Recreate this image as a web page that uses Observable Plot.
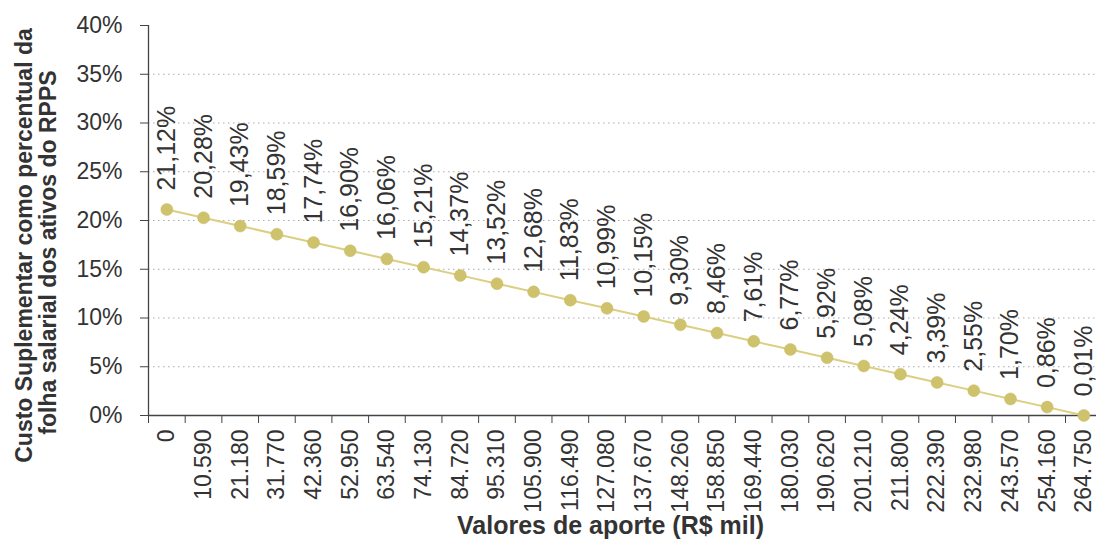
<!DOCTYPE html>
<html>
<head>
<meta charset="utf-8">
<script src="https://cdn.jsdelivr.net/npm/d3@7"></script>
<script src="https://cdn.jsdelivr.net/npm/@observablehq/plot@0.6"></script>
<style>
  html, body { margin: 0; padding: 0; background: #fff; }
  svg { display: block; }
</style>
</head>
<body>
<div id="chart"></div>
<script>
const categories = ["0","10.590","21.180","31.770","42.360","52.950","63.540","74.130","84.720","95.310","105.900","116.490","127.080","137.670","148.260","158.850","169.440","180.030","190.620","201.210","211.800","222.390","232.980","243.570","254.160","264.750"];
const values = [21.12,20.28,19.43,18.59,17.74,16.90,16.06,15.21,14.37,13.52,12.68,11.83,10.99,10.15,9.30,8.46,7.61,6.77,5.92,5.08,4.24,3.39,2.55,1.70,0.86,0.01];
const yTicks = [0,5,10,15,20,25,30,35,40];
const yTitle1 = "Custo Suplementar como percentual da";
const yTitle2 = "folha salarial dos ativos do RPPS";
const xTitle = "Valores de aporte (R$ mil)";

const data = categories.map((c, i) => ({idx: i, center: i + 0.5, cat: c, v: values[i]}));
const fmtPct = v => v.toFixed(2).replace(".", ",") + "%";

const W = 1096, H = 541;
const mL = 148, mR = 0, mT = 25, mB = 126;
// band width in px; the range extends slightly beyond the right edge
const bw = 36.68;
const xMax = (W - mL - mR) / bw;
const frameMidY = mT + (H - mT - mB) / 2;
const frameMidX = mL + (W - mL - mR) / 2;

const font = "Liberation Sans, Arial, Helvetica, sans-serif";
const ink = "#333";

const chart = Plot.plot({
  width: W, height: H,
  marginLeft: mL, marginRight: mR, marginTop: mT, marginBottom: mB,
  style: {fontFamily: font, fontSize: "23px", color: ink, background: "#fff", overflow: "visible"},
  x: {type: "linear", domain: [0, xMax]},
  y: {domain: [0, 40]},
  marks: [
    Plot.gridY(yTicks.filter(t => t > 0 && t < 40), {stroke: "#aaa", strokeOpacity: 1, strokeDasharray: "1.5,3.5", strokeWidth: 1}),
    // y axis line + ticks + labels
    Plot.ruleX([0], {stroke: "#444", strokeWidth: 1.3}),
    Plot.axisY(yTicks, {tickSize: 8, tickPadding: 18, tickFormat: d => d + "%", fontSize: 23, stroke: "#444", fill: ink, label: null}),
    // x axis line + boundary ticks
    Plot.ruleY([0], {stroke: "#444", strokeWidth: 1.3}),
    Plot.axisX(d3.range(categories.length + 1), {tickSize: 8, tickFormat: () => "", stroke: "#444", label: null}),
    Plot.axisX(data.map(d => d.center), {tickSize: 0, tickPadding: 14, tickRotate: -90, fontSize: 23, fill: ink,
      tickFormat: d => categories[Math.floor(d)], label: null}),
    // series
    Plot.line(data, {x: "center", y: "v", stroke: "#dccf82", strokeWidth: 2}),
    Plot.dot(data, {x: "center", y: "v", r: 6, fill: "#cfc26c", stroke: "#c9bb62", strokeWidth: 0.5}),
    Plot.text(data, {x: "center", y: "v", text: d => fmtPct(d.v), rotate: -90, textAnchor: "start", lineAnchor: "middle", dy: -19, fontSize: 25, fill: ink}),
    // titles
    Plot.text([yTitle1], {frameAnchor: "left", rotate: -90, textAnchor: "middle", lineAnchor: "middle", dx: 24 - mL, dy: 245 - frameMidY, fontSize: 23, fontWeight: "bold", fill: ink}),
    Plot.text([yTitle2], {frameAnchor: "left", rotate: -90, textAnchor: "middle", lineAnchor: "middle", dx: 48 - mL, dy: 252 - frameMidY, fontSize: 23, fontWeight: "bold", fill: ink}),
    Plot.text([xTitle], {frameAnchor: "bottom", textAnchor: "middle", lineAnchor: "bottom", dx: 610 - frameMidX, dy: 118, fontSize: 25, fontWeight: "bold", fill: ink})
  ]
});
document.getElementById("chart").appendChild(chart);
</script>
</body>
</html>
